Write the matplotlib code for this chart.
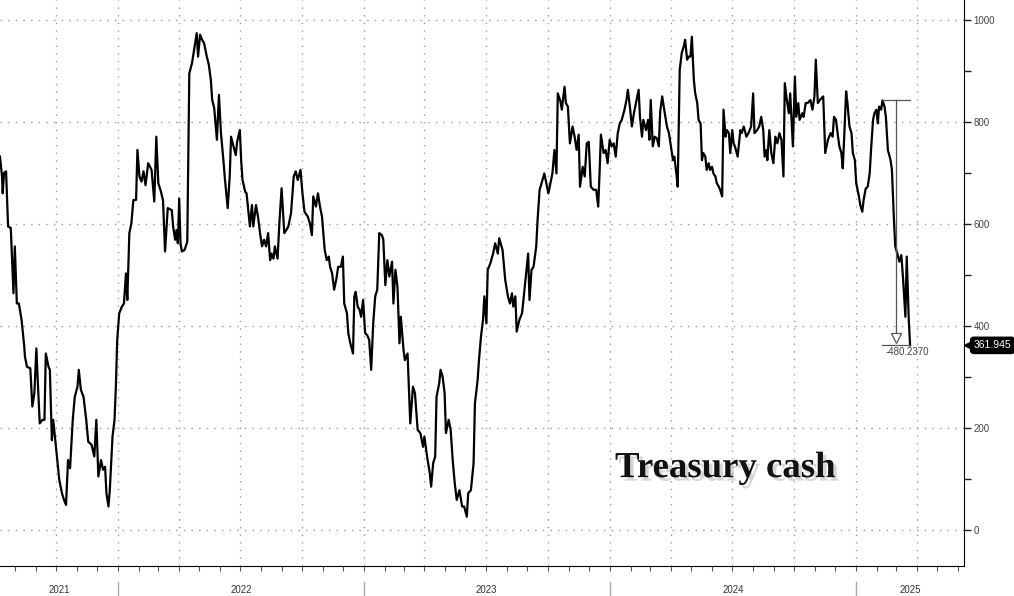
import pandas as pd
import matplotlib
matplotlib.use('Agg')
import matplotlib.pyplot as plt
import matplotlib.dates as mdates
import matplotlib.patheffects as pe
import matplotlib.transforms as mtransforms

# Treasury General Account balance, $bn
start = pd.Timestamp('2021-07-10')
days = [0, 3, 4, 6, 9, 12, 16, 20, 22, 25, 28, 32, 36, 37, 40, 45, 48, 51, 54, 56,
        59, 63, 66, 68, 72, 74, 77, 79, 82, 85, 88, 92, 95, 98, 101, 104, 108, 111, 115, 117,
        120, 124, 128, 131, 136, 140, 143, 146, 150, 153, 156, 158, 161, 163, 167, 170, 172, 174, 177, 181,
        184, 187, 189, 192, 195, 198, 202, 204, 207, 210, 213, 216, 220, 225, 229, 232, 235, 239, 242, 245,
        249, 255, 257, 260, 262, 264, 266, 268, 270, 274, 278, 281, 285, 289, 292, 294, 297, 300, 303, 307,
        310, 313, 315, 318, 322, 325, 328, 332, 334, 338, 341, 343, 346, 350, 352, 356, 358, 360, 364, 366,
        369, 371, 374, 376, 380, 383, 386, 389, 392, 395, 398, 401, 403, 406, 408, 412, 415, 418, 422, 425,
        428, 432, 436, 439, 442, 446, 449, 452, 457, 460, 463, 465, 469, 472, 475, 478, 482, 485, 488, 490,
        493, 496, 499, 502, 506, 509, 511, 515, 517, 520, 524, 526, 528, 531, 534, 536, 539, 542, 545, 548,
        551, 554, 557, 560, 563, 567, 569, 572, 575, 578, 582, 584, 587, 590, 593, 595, 599, 601, 605, 609,
        613, 616, 620, 624, 628, 630, 634, 638, 640, 643, 646, 648, 652, 654, 657, 660, 662, 666, 669, 672,
        675, 678, 682, 686, 689, 693, 695, 699, 703, 705, 709, 711, 714, 717, 719, 722, 724, 728, 732, 735,
        739, 741, 746, 750, 754, 757, 760, 762, 765, 767, 771, 775, 777, 781, 784, 786, 789, 792, 796, 798,
        801, 804, 808, 812, 814, 817, 820, 823, 826, 828, 832, 834, 838, 840, 843, 846, 850, 853, 856, 859,
        861, 865, 868, 871, 874, 877, 881, 885, 888, 890, 892, 896, 899, 902, 905, 908, 911, 914, 917, 920,
        923, 927, 930, 932, 935, 938, 941, 945, 948, 950, 953, 955, 959, 962, 964, 966, 969, 972, 975, 978,
        980, 983, 986, 990, 993, 996, 999, 1001, 1004, 1006, 1009, 1012, 1015, 1017, 1020, 1022, 1025, 1027, 1030, 1032,
        1035, 1037, 1040, 1042, 1044, 1047, 1049, 1052, 1054, 1057, 1059, 1062, 1064, 1067, 1069, 1072, 1074, 1077, 1079, 1082,
        1084, 1087, 1089, 1091, 1095, 1099, 1101, 1104, 1108, 1111, 1115, 1118, 1120, 1124, 1127, 1130, 1133, 1135, 1138, 1139,
        1142, 1145, 1148, 1151, 1154, 1157, 1160, 1163, 1165, 1168, 1171, 1173, 1177, 1180, 1182, 1185, 1187, 1191, 1193, 1196,
        1199, 1203, 1206, 1209, 1211, 1214, 1217, 1222, 1225, 1229, 1233, 1236, 1238, 1241, 1244, 1246, 1249, 1251, 1253, 1256,
        1258, 1261, 1264, 1266, 1269, 1271, 1275, 1277, 1280, 1282, 1285, 1288, 1291, 1293, 1296, 1298, 1301, 1303, 1305, 1308,
        1310, 1313, 1315, 1318, 1322, 1324, 1327, 1329, 1332, 1335, 1338, 1341, 1344, 1346, 1349, 1351]
cash = [732, 693, 660, 700, 703, 595, 592, 464, 556, 444, 444, 412, 360, 340, 320, 317, 242, 268, 356, 294,
        209, 216, 216, 346, 320, 314, 176, 216, 176, 137, 98, 72, 59, 49, 137, 121, 216, 261, 281, 314,
        275, 261, 216, 173, 167, 144, 216, 105, 137, 118, 124, 72, 46, 78, 183, 216, 281, 373, 425, 438,
        444, 503, 451, 582, 601, 647, 647, 745, 693, 683, 703, 676, 719, 706, 644, 771, 680, 663, 646, 546,
        631, 627, 595, 569, 588, 562, 650, 562, 546, 549, 565, 895, 915, 948, 974, 928, 971, 961, 954, 928,
        912, 882, 843, 827, 765, 853, 778, 719, 686, 631, 693, 771, 755, 735, 761, 784, 725, 686, 663, 660,
        621, 595, 637, 595, 637, 614, 582, 556, 569, 556, 582, 529, 542, 532, 556, 532, 608, 670, 582, 588,
        595, 621, 693, 703, 686, 706, 660, 624, 614, 601, 578, 654, 634, 660, 634, 614, 549, 529, 536, 516,
        503, 471, 490, 516, 516, 536, 444, 425, 386, 366, 346, 458, 467, 438, 431, 418, 451, 386, 382, 373,
        314, 405, 458, 471, 582, 578, 569, 480, 529, 497, 526, 444, 510, 477, 366, 418, 353, 333, 346, 209,
        281, 268, 196, 190, 163, 183, 144, 111, 85, 131, 144, 261, 288, 314, 301, 268, 190, 216, 196, 137,
        92, 59, 78, 46, 46, 26, 72, 78, 131, 248, 294, 333, 379, 412, 458, 405, 510, 523, 542, 562,
        542, 572, 549, 490, 458, 444, 464, 438, 458, 389, 412, 425, 451, 503, 542, 451, 510, 516, 556, 608,
        667, 680, 699, 673, 660, 680, 699, 745, 699, 856, 840, 824, 869, 837, 830, 758, 791, 771, 745, 775,
        673, 712, 693, 758, 761, 673, 667, 667, 634, 699, 775, 739, 745, 719, 765, 752, 758, 732, 778, 797,
        804, 824, 843, 863, 830, 791, 817, 843, 863, 810, 771, 804, 784, 804, 765, 843, 752, 771, 768, 752,
        820, 850, 824, 791, 778, 752, 725, 732, 699, 673, 902, 935, 948, 961, 922, 928, 928, 967, 882, 856,
        837, 804, 797, 725, 739, 732, 706, 719, 706, 712, 699, 693, 680, 673, 667, 654, 824, 771, 784, 778,
        739, 784, 758, 752, 732, 784, 778, 791, 771, 778, 791, 856, 778, 784, 791, 810, 784, 732, 745, 725,
        784, 739, 719, 771, 758, 778, 765, 693, 876, 843, 817, 856, 752, 889, 810, 837, 804, 817, 810, 837,
        837, 843, 824, 850, 922, 837, 843, 850, 739, 765, 778, 771, 810, 804, 771, 752, 739, 709, 765, 860,
        837, 791, 778, 739, 725, 680, 654, 637, 624, 647, 669, 673, 699, 745, 804, 817, 824, 797, 830, 824,
        842.182, 830, 810, 745, 725, 706, 608, 556, 542, 526, 539, 484, 418, 536, 412, 361.945]

yticks = [0, 200, 400, 600, 800, 1000]
years = [2021, 2022, 2023, 2024, 2025]

dates = [start + pd.Timedelta(days=d) for d in days]
x_min = start
x_max = pd.Timestamp('2025-06-10')

# recent high used for the drawdown marker
peak_idx = max(range(len(cash) - 20, len(cash)), key=lambda i: cash[i])

fig = plt.figure(figsize=(10.14, 5.96), dpi=100)
ax = fig.add_axes([0, 30 / 596, 964 / 1014, 566 / 596])

ax.plot(dates, cash, color='black', linewidth=1.6, zorder=3)

ax.set_xlim(x_min, x_max)
ax.set_ylim(-70.6, 1039)

# grid
ax.set_yticks(yticks)
ax.set_yticks(range(100, 1000, 200), minor=True)
ax.xaxis.set_major_locator(mdates.MonthLocator(bymonth=[1, 4, 7, 10]))
ax.xaxis.set_minor_locator(mdates.MonthLocator())
ax.xaxis.set_major_formatter(plt.NullFormatter())
ax.grid(which='major', linestyle=(0, (1, 4.5)), linewidth=1.0, color='#9a9a9a')

ax.spines['left'].set_visible(False)
ax.spines['top'].set_visible(False)
ax.yaxis.tick_right()
ax.tick_params(axis='y', which='both', direction='out', length=5, width=1,
               labelsize=7, labelcolor='#444444', color='#222222', pad=2)
ax.tick_params(axis='x', which='both', direction='out', length=3.5, width=0.8,
               color='#555555')
for lab in ax.get_yticklabels():
    lab.set_family('Liberation Sans')

# year separators and labels under the axis
trans = mtransforms.blended_transform_factory(ax.transData, ax.transAxes)
for yr in years:
    y0 = pd.Timestamp(f'{yr}-01-01')
    y1 = pd.Timestamp(f'{yr + 1}-01-01')
    if y0 > x_min:
        ax.plot([y0, y0], [-0.028, -0.06], transform=trans, color='#aaaaaa',
                linewidth=1, clip_on=False)
    a = max(y0, x_min)
    b = min(y1, x_max)
    mid = a + (b - a) / 2
    ax.text(mid, -0.0424, str(yr), transform=trans, ha='center', va='center',
            fontsize=7, color='#333333', family='Liberation Sans')

# drawdown annotation
peak_date = dates[peak_idx]
last_date = dates[-1]
peak_val = cash[peak_idx]
last_val = cash[-1]
mid_date = peak_date + (last_date - peak_date) / 2
ax.plot([peak_date, last_date], [peak_val, peak_val], color='#555555', linewidth=0.9, zorder=4)
ax.plot([peak_date, last_date], [last_val, last_val], color='#555555', linewidth=0.9, zorder=4)
ax.plot([mid_date, mid_date], [peak_val, last_val + 14], color='#555555', linewidth=0.9, zorder=4)
ax.plot([mid_date], [last_val + 14], marker='v', markersize=7, markerfacecolor='white',
        markeredgecolor='#555555', markeredgewidth=0.9, zorder=5)
ax.annotate(f'{last_val - peak_val:.4f}', xy=(peak_date, last_val), xytext=(2, -5),
            textcoords='offset points', ha='left', va='center', fontsize=7,
            color='#444444', family='Liberation Sans')

# last value tag
ax.plot([1.004], [last_val], marker='<', markersize=6, color='black',
        transform=mtransforms.blended_transform_factory(ax.transAxes, ax.transData),
        clip_on=False)
ax.annotate(f'{last_val:.3f}', xy=(1, last_val), xycoords=('axes fraction', 'data'),
            xytext=(7, 0), textcoords='offset points', ha='left', va='center',
            fontsize=7.5, color='white', family='Liberation Sans',
            bbox=dict(boxstyle='round,pad=0.3', facecolor='black', edgecolor='black'))

# title-like label
ax.text(0.638, 0.157, 'Treasury cash', transform=ax.transAxes, fontsize=26.5,
        family='Liberation Serif', fontweight='bold', color='#111111', ha='left', va='baseline',
        path_effects=[pe.SimplePatchShadow(offset=(2.5, -2.5), shadow_rgbFace='#999999', alpha=0.4),
                      pe.Normal()])

fig.savefig('out.png', dpi=100)
